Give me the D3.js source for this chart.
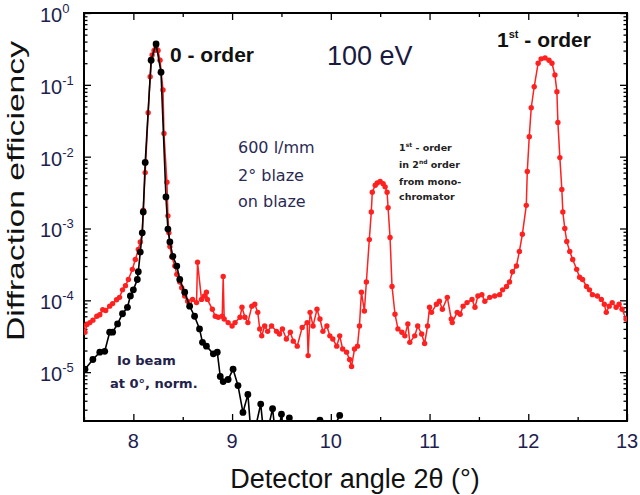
<!DOCTYPE html>
<html><head><meta charset="utf-8">
<script src="https://cdn.jsdelivr.net/npm/d3@7/dist/d3.min.js"></script>
<style>body{margin:0;background:#fff}svg{display:block}</style>
</head><body>
<svg id="c" width="640" height="495"></svg>
<script>
// ---- data ----
const redAngles = [7.49,7.51,7.53,7.56,7.59,7.63,7.66,7.69,7.72,7.76,7.79,7.83,7.86,7.89,7.92,7.95,7.99,8.02,8.05,8.07,8.09,8.10,8.12,8.15,8.17,8.19,8.21,8.23,8.25,8.27,8.30,8.31,8.34,8.35,8.36,8.37,8.39,8.42,8.44,8.47,8.49,8.52,8.55,8.57,8.60,8.64,8.65,8.69,8.72,8.74,8.75,8.80,8.83,8.86,8.90,8.91,8.92,8.96,9.00,9.03,9.08,9.10,9.13,9.16,9.20,9.23,9.26,9.28,9.30,9.33,9.36,9.40,9.45,9.48,9.51,9.55,9.59,9.62,9.66,9.71,9.76,9.77,9.79,9.82,9.86,9.89,9.92,9.96,9.99,10.02,10.06,10.09,10.12,10.16,10.19,10.21,10.24,10.27,10.29,10.31,10.34,10.36,10.39,10.41,10.42,10.45,10.47,10.50,10.53,10.55,10.57,10.58,10.60,10.62,10.65,10.68,10.72,10.75,10.78,10.80,10.85,10.88,10.92,10.95,10.98,11.00,11.02,11.07,11.10,11.13,11.18,11.22,11.23,11.28,11.31,11.34,11.38,11.43,11.46,11.49,11.53,11.56,11.61,11.66,11.71,11.74,11.78,11.81,11.84,11.88,11.91,11.94,11.98,11.99,12.01,12.03,12.06,12.10,12.13,12.17,12.21,12.24,12.27,12.29,12.30,12.32,12.34,12.35,12.37,12.39,12.42,12.45,12.49,12.52,12.55,12.59,12.62,12.65,12.70,12.74,12.77,12.79,12.82,12.85,12.89,12.92,12.95,12.99];
const redEff = [4.4e-5,3.6e-5,4.6e-5,4.9e-5,5.3e-5,6.0e-5,6.3e-5,7.4e-5,7.2e-5,8.3e-5,9.0e-5,1.02e-4,1.1e-4,1.4e-4,1.6e-4,1.95e-4,2.7e-4,3.7e-4,5.1e-4,6.5e-4,8.7e-4,1.8e-3,6e-3,0.041,0.13,0.26,0.30,0.34,0.30,0.22,0.085,0.021,4.4e-3,1.5e-3,8.7e-4,5.6e-4,4.0e-4,3.0e-4,2.3e-4,1.8e-4,1.5e-4,1.15e-4,9.7e-5,8.3e-5,1.03e-4,9.3e-5,3.4e-4,1.03e-4,1.15e-4,1.3e-4,1.03e-4,7.5e-5,6.0e-5,5.8e-5,6.0e-5,2.15e-4,5.5e-5,4.9e-5,4.4e-5,4.9e-5,5.8e-5,8.0e-5,5.8e-5,4.9e-5,8.3e-5,8.8e-5,6.8e-5,4.0e-5,3.2e-5,4.4e-5,3.7e-5,4.4e-5,3.7e-5,3.4e-5,4.0e-5,2.9e-5,3.6e-5,2.7e-5,2.3e-5,4.2e-5,4.9e-5,1.7e-5,6.8e-5,4.4e-5,7.5e-5,5.5e-5,3.7e-5,4.4e-5,3.2e-5,2.9e-5,2.3e-5,3.2e-5,2.1e-5,1.9e-5,1.5e-5,1.2e-5,2.1e-5,2.3e-5,4.4e-5,1.3e-4,7.1e-5,1.8e-4,7.0e-4,1.7e-3,3.2e-3,4.0e-3,4.3e-3,4.5e-3,4.2e-3,3.8e-3,3.2e-3,1.95e-3,7.5e-4,1.56e-4,6.4e-5,4.0e-5,3.6e-5,3.2e-5,4.7e-5,2.6e-5,3.2e-5,4.4e-5,3.4e-5,2.5e-5,4.4e-5,8.0e-5,6.8e-5,8.8e-5,9.7e-5,7.5e-5,1.1e-4,5.5e-5,4.9e-5,6.8e-5,6.4e-5,8.3e-5,9.3e-5,1.03e-4,8.0e-5,1.15e-4,1.2e-4,9.7e-5,1.1e-4,1.15e-4,1.2e-4,1.4e-4,1.56e-4,1.8e-4,2.5e-4,3.0e-4,4.8e-4,8.3e-4,2.1e-3,6.2e-3,0.019,0.048,0.094,0.20,0.23,0.237,0.22,0.20,0.137,0.08,0.030,0.0097,0.0035,1.7e-3,1.0e-3,6.6e-4,4.8e-4,3.7e-4,2.7e-4,2.1e-4,1.95e-4,1.56e-4,1.4e-4,1.2e-4,1.15e-4,1.03e-4,8.8e-5,6.8e-5,8.3e-5,9.3e-5,8.0e-5,8.8e-5,7.5e-5,5.5e-5];

const blackAngles = [7.51,7.59,7.66,7.71,7.76,7.79,7.84,7.89,7.94,7.97,8.00,8.04,8.05,8.07,8.09,8.10,8.12,8.18,8.23,8.28,8.33,8.35,8.37,8.40,8.44,8.47,8.52,8.57,8.62,8.67,8.70,8.74,8.81,8.85,8.88,8.91,8.96,9.01,9.06,9.11,9.16,9.20,9.29,9.33,9.41,9.45,9.50,9.53,9.58,9.62,9.89,9.95,10.09];
const blackEff = [1.1e-5,1.5e-5,1.9e-5,1.95e-5,3.6e-5,3.6e-5,4.7e-5,6.5e-5,8.0e-5,1.15e-4,1.4e-4,1.95e-4,2.5e-4,4.7e-4,8.7e-4,1.7e-3,8.3e-3,0.22,0.37,0.15,2.75e-3,9.8e-4,6.5e-4,4.1e-4,3.0e-4,1.95e-4,1.3e-4,8.3e-5,6.0e-5,4.0e-5,2.6e-5,2.3e-5,1.8e-5,1.9e-5,8.7e-6,7.4e-6,7.9e-6,1.1e-5,6.5e-6,2.75e-6,4.9e-6,1e-6,3.6e-6,1e-6,3.1e-6,1e-6,2.6e-6,1e-6,2.3e-6,1e-6,2.15e-6,1e-6,2.5e-6];

const xMajorTicks = [8,9,10,11,12,13];
const xMinorTicks = [7.5,8.5,9.5,10.5,11.5,12.5];
const yExponents = [0,-1,-2,-3,-4,-5];

// ---- layout ----
const svg = d3.select("#c");
const L = 84, R = 627, T = 13, B = 421;
const x = d3.scaleLinear().domain([7.5, 13]).range([L, R]);
const y = d3.scaleLog().domain([Math.pow(10, -5.68), 1]).range([B, T]);

svg.append("defs").append("clipPath").attr("id","clip")
  .append("rect").attr("x",L).attr("y",T).attr("width",R-L).attr("height",B-T);

const navy = "#1e1e50";

const yMinor = [];
for (let e = -6; e < 0; e++) for (let k = 2; k <= 9; k++) { const v = k*Math.pow(10,e); if (v >= y.domain()[0] && v <= 1) yMinor.push(v); }
const yMajor = yExponents.map(e => Math.pow(10, e));

function styleAxis(g){ g.select(".domain").remove(); g.selectAll("line").attr("stroke","#000").attr("stroke-width",1.3); g.selectAll("text").remove(); }

svg.append("g").attr("transform",`translate(0,${B})`).call(d3.axisBottom(x).tickValues(xMajorTicks).tickSize(-7)).call(styleAxis);
svg.append("g").attr("transform",`translate(0,${B})`).call(d3.axisBottom(x).tickValues(xMinorTicks).tickSize(-4)).call(styleAxis);
svg.append("g").attr("transform",`translate(0,${T})`).call(d3.axisTop(x).tickValues(xMajorTicks).tickSize(-7)).call(styleAxis);
svg.append("g").attr("transform",`translate(0,${T})`).call(d3.axisTop(x).tickValues(xMinorTicks).tickSize(-4)).call(styleAxis);
svg.append("g").attr("transform",`translate(${L},0)`).call(d3.axisLeft(y).tickValues(yMajor).tickSize(-7)).call(styleAxis);
svg.append("g").attr("transform",`translate(${L},0)`).call(d3.axisLeft(y).tickValues(yMinor).tickSize(-3.5)).call(styleAxis);
svg.append("g").attr("transform",`translate(${R},0)`).call(d3.axisRight(y).tickValues(yMajor).tickSize(-7)).call(styleAxis);
svg.append("g").attr("transform",`translate(${R},0)`).call(d3.axisRight(y).tickValues(yMinor).tickSize(-3.5)).call(styleAxis);

svg.append("rect").attr("x",L).attr("y",T).attr("width",R-L).attr("height",B-T)
  .attr("fill","none").attr("stroke","#000").attr("stroke-width",2);

// tick labels
svg.append("g").selectAll("text").data(xMajorTicks).join("text")
  .attr("x", d => x(d)).attr("y", 448).attr("text-anchor","middle")
  .attr("font-family","Liberation Sans, Arial, sans-serif").attr("font-size",20).attr("fill",navy)
  .text(d => d);
const yl = svg.append("g").selectAll("text").data(yExponents).join("text")
  .attr("x", 40).attr("y", d => y(Math.pow(10,d)) + 9)
  .attr("font-family","Liberation Sans, Arial, sans-serif").attr("font-size",20).attr("fill",navy);
yl.append("tspan").text("10");
yl.append("tspan").attr("font-size",13).attr("dy",-9).text(d => d === 0 ? "0" : "-" + Math.abs(d));

// axis titles
svg.append("text").attr("x", 355).attr("y", 488).attr("text-anchor","middle")
  .attr("font-family","Liberation Sans, Arial, sans-serif").attr("font-size",27).attr("fill","#111")
  .text("Detector angle 2θ (°)");
svg.append("text").attr("transform","translate(24,191) rotate(-90)").attr("text-anchor","middle")
  .attr("font-family","Liberation Sans, Arial, sans-serif").attr("font-size",24).attr("fill","#111")
  .attr("textLength",300).attr("lengthAdjust","spacingAndGlyphs")
  .text("Diffraction efficiency");

// series
const plot = svg.append("g").attr("clip-path","url(#clip)");
const red = redAngles.map((a,i) => [a, redEff[i]]);
const blk = blackAngles.map((a,i) => [a, blackEff[i]]);
const line = d3.line().x(d => x(d[0])).y(d => y(d[1]));
plot.append("path").attr("d", line(red)).attr("fill","none").attr("stroke","#ff2020").attr("stroke-width",1.5);
plot.append("g").selectAll("circle").data(red).join("circle")
  .attr("cx", d => x(d[0])).attr("cy", d => y(d[1])).attr("r", 2.7).attr("fill","#ff2020");
plot.append("path").attr("d", line(blk)).attr("fill","none").attr("stroke","#000").attr("stroke-width",1.6);
plot.append("g").selectAll("circle").data(blk).join("circle")
  .attr("cx", d => x(d[0])).attr("cy", d => y(d[1])).attr("r", 3.4).attr("fill","#000");

// annotations
function txt(t, x0, y0, size, weight, fill, family){
  return svg.append("text").attr("x",x0).attr("y",y0).attr("font-size",size).attr("font-weight",weight)
    .attr("fill",fill).attr("font-family",family).text(t);
}
const AR = "Liberation Sans, Arial, sans-serif", DV = "DejaVu Sans, sans-serif";
txt("0 - order", 170, 62, 21, "bold", "#111", AR);
txt("100 eV", 327, 65, 27, "normal", "#1a1a40", AR);
const fo = svg.append("text").attr("x",497).attr("y",47).attr("font-size",21).attr("font-weight","bold").attr("fill","#111").attr("font-family",AR);
fo.append("tspan").text("1");
fo.append("tspan").attr("font-size",11).attr("dy",-9).text("st");
fo.append("tspan").attr("dy",9).text(" - order");
txt("600 l/mm", 238, 153, 16, "normal", "#2a2a55", DV);
txt("2° blaze", 238, 181, 16, "normal", "#2a2a55", DV);
txt("on blaze", 238, 207, 16, "normal", "#2a2a55", DV);
const s1 = svg.append("text").attr("x",399).attr("y",151).attr("font-size",9.5).attr("font-weight","bold").attr("fill","#222").attr("font-family",DV);
s1.append("tspan").text("1");
s1.append("tspan").attr("font-size",6).attr("dy",-4).text("st");
s1.append("tspan").attr("dy",4).text(" - order");
const s2 = svg.append("text").attr("x",399).attr("y",168).attr("font-size",9.5).attr("font-weight","bold").attr("fill","#222").attr("font-family",DV);
s2.append("tspan").text("in 2");
s2.append("tspan").attr("font-size",6).attr("dy",-4).text("nd");
s2.append("tspan").attr("dy",4).text(" order");
txt("from mono-", 399, 185, 9.5, "bold", "#222", DV);
txt("chromator", 399, 200, 9.5, "bold", "#222", DV);
txt("Io beam", 117, 365, 13, "bold", "#22224a", DV);
txt("at 0°, norm.", 110, 388, 13, "bold", "#22224a", DV);
</script>
</body></html>
